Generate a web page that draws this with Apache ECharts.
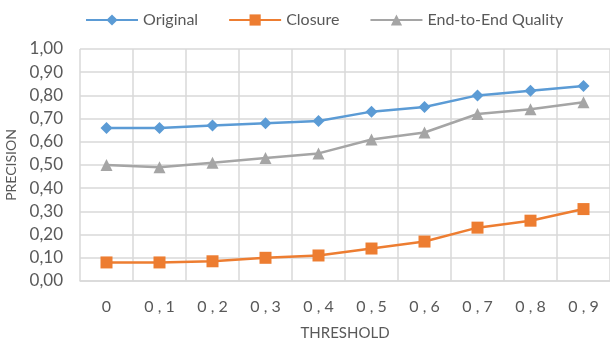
<!DOCTYPE html>
<html>
<head>
    <meta charset="utf-8">
    <script src="https://cdn.jsdelivr.net/npm/echarts@6/dist/echarts.min.js"></script>
    <style>
        body { margin: 0; background: #fff; }
    </style>
</head>
<body>
    <div id="main" style="width: 610px;height:339px;"></div>

    <script type="text/javascript">
        var thresholds = ['0', '0,1', '0,2', '0,3', '0,4', '0,5', '0,6', '0,7', '0,8', '0,9'];
        var original = [0.66, 0.66, 0.67, 0.68, 0.69, 0.73, 0.75, 0.80, 0.82, 0.84];
        var closure = [0.08, 0.08, 0.085, 0.10, 0.11, 0.14, 0.17, 0.23, 0.26, 0.31];
        var endToEnd = [0.50, 0.49, 0.51, 0.53, 0.55, 0.61, 0.64, 0.72, 0.74, 0.77];

        var textColor = '#595959';
        var font = 'Lato';

        var myChart = echarts.init(document.getElementById('main'));

        function makeSeries(name, data, color, symbol, size) {
            return {
                name: name,
                type: 'line',
                data: data,
                symbol: symbol,
                symbolSize: size,
                lineStyle: { color: color, width: 2.5 },
                itemStyle: { color: color },
                animation: false
            };
        }

        var option = {
            animation: false,
            textStyle: { fontFamily: font },
            legend: {
                top: 7,
                left: 80,
                itemWidth: 52,
                itemHeight: 14,
                itemGap: 30,
                textStyle: { color: textColor, fontSize: 16, fontFamily: font }
            },
            grid: { left: 80, right: 0, top: 49, bottom: 58, outerBoundsMode: 'none' },
            xAxis: {
                type: 'category',
                data: thresholds,
                name: 'THRESHOLD',
                nameLocation: 'middle',
                nameGap: 45,
                nameTextStyle: { color: textColor, fontSize: 15, fontFamily: font },
                axisLine: { lineStyle: { color: '#d9d9d9', width: 1.5 } },
                axisTick: { show: false },
                splitLine: { show: true, lineStyle: { color: '#d9d9d9', width: 1.5 } },
                axisLabel: {
                    color: textColor,
                    fontSize: 16,
                    margin: 18,
                    formatter: function (v) { return v.split('').join(' '); }
                }
            },
            yAxis: {
                type: 'value',
                min: 0,
                max: 1,
                interval: 0.1,
                name: 'PRECISION',
                nameLocation: 'middle',
                nameGap: 52,
                nameTextStyle: { color: textColor, fontSize: 14, fontFamily: font },
                axisLine: { show: false },
                axisTick: { show: false },
                splitLine: { lineStyle: { color: '#d9d9d9', width: 1.5 } },
                axisLabel: {
                    color: textColor,
                    fontSize: 17,
                    margin: 17,
                    formatter: function (v) { return v.toFixed(2).replace('.', ','); }
                }
            },
            series: [
                makeSeries('Original', original, '#5b9bd5', 'diamond', 12),
                makeSeries('Closure', closure, '#ed7d31', 'rect', 12),
                makeSeries('End-to-End Quality', endToEnd, '#a5a5a5', 'triangle', 12)
            ]
        };

        myChart.setOption(option);
    </script>
</body>
</html>
